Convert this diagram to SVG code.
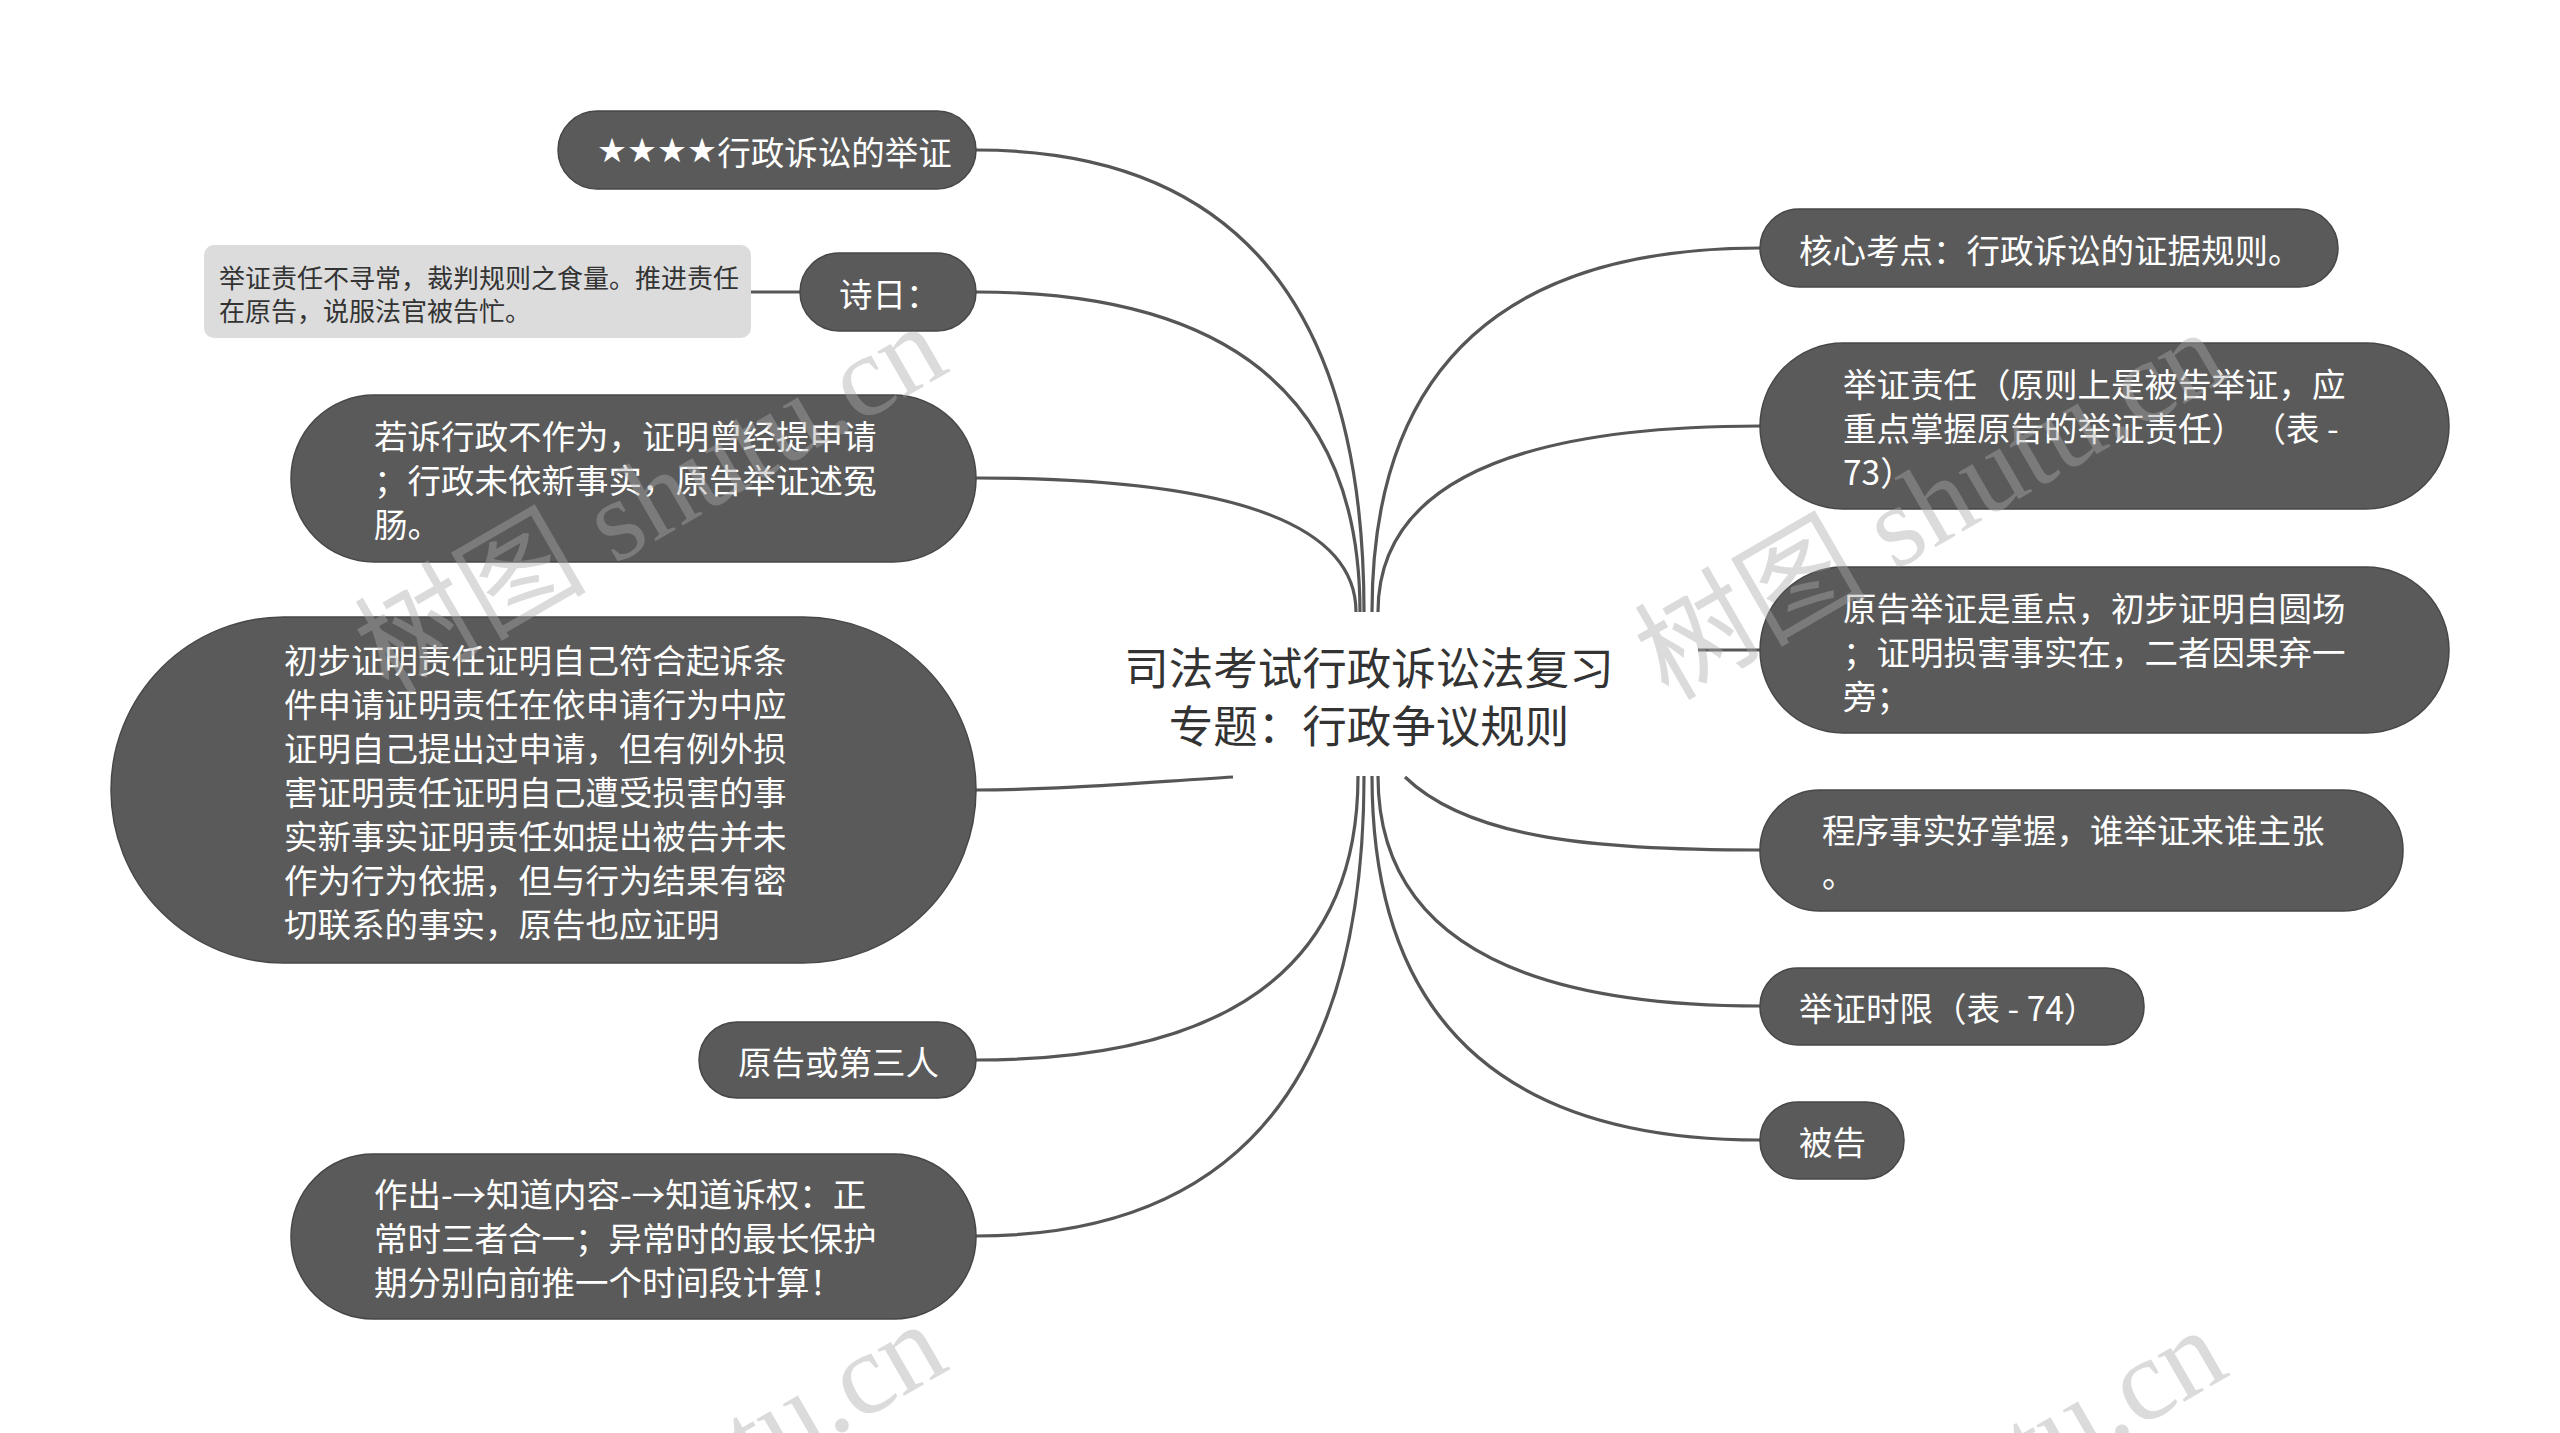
<svg xmlns="http://www.w3.org/2000/svg" width="2560" height="1433" viewBox="0 0 2560 1433">
<style>
.n rect{fill:#5a5a5a;stroke:#474747;stroke-width:1.5}
.n text{fill:#ffffff;font-family:"Noto Sans CJK SC","Noto Sans",sans-serif;font-size:33.5px;dominant-baseline:central}
.star{font-family:"DejaVu Sans",sans-serif}
.c path{fill:none;stroke:#565656;stroke-width:3.2}
.title{fill:#333333;font-family:"Noto Sans CJK SC","Noto Sans",sans-serif;font-size:44.5px;text-anchor:middle;dominant-baseline:central}
.note rect{fill:#dcdcdc}
.note text{fill:#333333;font-family:"Noto Sans CJK SC","Noto Sans",sans-serif;font-size:26px;dominant-baseline:central}
.wm{fill:#aaaaaa;opacity:0.42;font-family:"Liberation Serif","Noto Sans CJK SC",serif;font-size:116px;text-anchor:end}
</style>
<rect width="2560" height="1433" fill="#ffffff"/>
<g id="connectors" class="c">
<path d="M976 150 Q1364 150 1364 612"/>
<path d="M976 292 Q1360 292 1360 612"/>
<path d="M976 478 Q1356 478 1356 612"/>
<path d="M976 790 C1060 790 1150 782 1233 777"/>
<path d="M976 1060 Q1358 1060 1358 776"/>
<path d="M976 1236 Q1364 1236 1364 776"/>
<path d="M1760 248 Q1372 248 1372 612"/>
<path d="M1760 426 Q1378 426 1378 612"/>
<path d="M1698 650 L1760 650"/>
<path d="M1405 777 C1470 840 1600 850 1760 850"/>
<path d="M1760 1006 Q1378 1006 1378 776"/>
<path d="M1760 1140 Q1372 1140 1372 776"/>
<path d="M751 292 L800 292"/>
</g>
<g id="center">
<text class="title"><tspan x="1369" y="665">司法考试行政诉讼法复习</tspan><tspan x="1369" y="723">专题：行政争议规则</tspan></text>
</g>
<g id="node1" class="n"><rect x="558" y="111" width="418" height="78" rx="39"/><text x="597" y="150"><tspan class="star">★★★★</tspan>行政诉讼的举证</text></g>
<g id="node2" class="n"><rect x="800" y="253" width="176" height="78" rx="39"/><text x="839" y="292">诗日：</text></g>
<g id="note2" class="note"><rect x="204" y="245" width="547" height="93" rx="10"/><text x="219" y="276">举证责任不寻常，裁判规则之食量。推进责任</text><text x="219" y="309">在原告，说服法官被告忙。</text></g>
<g id="node3" class="n"><rect x="291" y="395" width="685" height="167" rx="83"/><text x="374" y="434">若诉行政不作为，证明曾经提申请</text><text x="374" y="478">；行政未依新事实，原告举证述冤</text><text x="374" y="522">肠。</text></g>
<g id="node4" class="n"><rect x="111" y="617" width="865" height="346" rx="173"/>
<text x="284" y="658">初步证明责任证明自己符合起诉条</text>
<text x="284" y="702">件申请证明责任在依申请行为中应</text>
<text x="284" y="746">证明自己提出过申请，但有例外损</text>
<text x="284" y="790">害证明责任证明自己遭受损害的事</text>
<text x="284" y="834">实新事实证明责任如提出被告并未</text>
<text x="284" y="878">作为行为依据，但与行为结果有密</text>
<text x="284" y="922">切联系的事实，原告也应证明</text></g>
<g id="node5" class="n"><rect x="699" y="1022" width="277" height="76" rx="38"/><text x="738" y="1060">原告或第三人</text></g>
<g id="node6" class="n"><rect x="291" y="1154" width="685" height="165" rx="82"/><text x="374" y="1192">作出-→知道内容-→知道诉权：正</text><text x="374" y="1236">常时三者合一；异常时的最长保护</text><text x="374" y="1280">期分别向前推一个时间段计算！</text></g>
<g id="node7" class="n"><rect x="1760" y="209" width="578" height="78" rx="39"/><text x="1799" y="248">核心考点：行政诉讼的证据规则。</text></g>
<g id="node8" class="n"><rect x="1760" y="343" width="689" height="166" rx="83"/><text x="1843" y="382">举证责任（原则上是被告举证，应</text><text x="1843" y="426">重点掌握原告的举证责任） （表 -</text><text x="1843" y="470">73）</text></g>
<g id="node9" class="n"><rect x="1760" y="567" width="689" height="166" rx="83"/><text x="1843" y="606">原告举证是重点，初步证明自圆场</text><text x="1843" y="650">；证明损害事实在，二者因果弃一</text><text x="1843" y="694">旁；</text></g>
<g id="node10" class="n"><rect x="1760" y="790" width="643" height="121" rx="60"/><text x="1822" y="828">程序事实好掌握，谁举证来谁主张</text><text x="1822" y="872">。</text></g>
<g id="node11" class="n"><rect x="1760" y="968" width="384" height="77" rx="38"/><text x="1799" y="1006">举证时限（表 - 74）</text></g>
<g id="node12" class="n"><rect x="1760" y="1102" width="144" height="77" rx="38"/><text x="1799" y="1140">被告</text></g>
<g id="watermark">
<text class="wm" x="952" y="370" transform="rotate(-30 952 370)">树图 shutu.cn</text>
<text class="wm" x="2232" y="376" transform="rotate(-30 2232 376)">树图 shutu.cn</text>
<text class="wm" x="952" y="1368" transform="rotate(-30 952 1368)">树图 shutu.cn</text>
<text class="wm" x="2232" y="1374" transform="rotate(-30 2232 1374)">树图 shutu.cn</text>
</g>
</svg>
